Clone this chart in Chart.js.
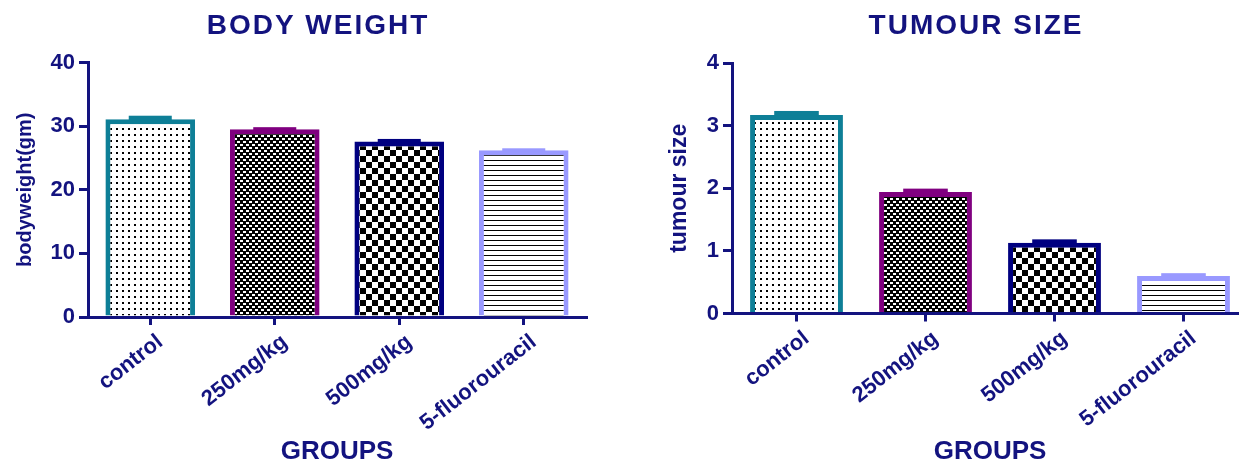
<!DOCTYPE html>
<html>
<head>
<meta charset="utf-8">
<script src="https://cdn.jsdelivr.net/npm/chart.js@4.4.0/dist/chart.umd.min.js"></script>
<style>
  html, body { margin: 0; padding: 0; background: #fff; overflow: hidden; width: 1239px; height: 463px; }
  .box { position: absolute; top: 0; height: 470px; }
  #left { left: 0; width: 620px; }
  #right { left: 620px; width: 640px; }
</style>
</head>
<body>
<div class="box" id="left"><canvas id="weightChart"></canvas></div>
<div class="box" id="right"><canvas id="tumourChart"></canvas></div>
<script>
const groups = ["control", "250mg/kg", "500mg/kg", "5-fluorouracil"];
const weightMeans = [31.1, 29.5, 27.6, 26.2];
const weightErrors = [0.3, 0.1, 0.15, 0.08];
const tumourMeans = [3.17, 1.94, 1.13, 0.6];
const tumourErrors = [0.04, 0.03, 0.03, 0.02];
const weightTicks = { max: 40, step: 10 };
const tumourTicks = { max: 4, step: 1 };

const navy = "#13137f";
const font = "'Liberation Sans', Arial, sans-serif";
const borderColors = ["#0e7f97", "#800080", "#000080", "#9999ff"];

// small tile patterns like the GraphPad fills
function tile(w, h, bg, fg, paint) {
  const c = document.createElement("canvas");
  c.width = w;
  c.height = h;
  const g = c.getContext("2d");
  g.fillStyle = bg;
  g.fillRect(0, 0, w, h);
  g.fillStyle = fg;
  paint(g);
  return g.createPattern(c, "repeat");
}

const fills = [
  tile(6, 6, "#fff", "#000", (g) => g.fillRect(2, 2, 2, 2)),
  tile(6, 6, "#000", "#fff", (g) => { g.fillRect(0, 0, 3, 2); g.fillRect(3, 3, 3, 2); }),
  tile(12, 12, "#fff", "#000", (g) => { g.fillRect(0, 0, 6, 6); g.fillRect(6, 6, 6, 6); }),
  tile(6, 5, "#fff", "#000", (g) => g.fillRect(0, 0, 6, 1)),
];

const errorCaps = {
  id: "errorCaps",
  afterDatasetsDraw(chart) {
    const { ctx } = chart;
    const y = chart.scales.y;
    const errs = chart.options.plugins.errorCaps.errors;
    chart.getDatasetMeta(0).data.forEach((bar, i) => {
      const mean = chart.data.datasets[0].data[i];
      const top = y.getPixelForValue(mean + errs[i]) - 1.5;
      const base = y.getPixelForValue(mean) + 1;
      const half = bar.width * 0.24;
      ctx.save();
      ctx.fillStyle = borderColors[i];
      ctx.fillRect(bar.x - half, top, half * 2, base - top);
      ctx.restore();
    });
  },
};

const chartTitle = {
  id: "chartTitle",
  afterDraw(chart) {
    const o = chart.options.plugins.chartTitle;
    const { ctx } = chart;
    ctx.save();
    ctx.font = "bold 28px " + font;
    if ("letterSpacing" in ctx) ctx.letterSpacing = "2px";
    ctx.fillStyle = navy;
    ctx.textAlign = "center";
    ctx.textBaseline = "middle";
    ctx.fillText(o.text, o.x, 26);
    ctx.restore();
  },
};

function makeChart(id, cfg) {
  return new Chart(document.getElementById(id), {
    type: "bar",
    data: {
      labels: groups,
      datasets: [
        {
          data: cfg.values,
          backgroundColor: fills,
          borderColor: borderColors,
          borderWidth: 5,
          borderSkipped: "bottom",
          barPercentage: 0.72,
          categoryPercentage: 1,
        },
      ],
    },
    plugins: [errorCaps, chartTitle],
    options: {
      responsive: true,
      maintainAspectRatio: false,
      animation: false,
      layout: { padding: { top: cfg.top, right: cfg.right, bottom: 0, left: 0 } },
      plugins: {
        legend: { display: false },
        tooltip: { enabled: false },
        errorCaps: { errors: cfg.errors },
        chartTitle: { text: cfg.title, x: cfg.titleX },
      },
      scales: {
        x: {
          grid: { display: true, offset: false, drawOnChartArea: false, tickLength: 8, color: navy, lineWidth: 3 },
          border: { color: navy, width: 3 },
          ticks: {
            color: navy,
            font: { family: font, size: 22, weight: "bold" },
            minRotation: 38,
            maxRotation: 38,
            padding: 4,
            labelOffset: 10,
          },
          title: {
            display: true,
            text: "GROUPS",
            color: navy,
            font: { family: font, size: 26, weight: "bold" },
            padding: { top: 0, bottom: 3 },
          },
          afterFit: (s) => { s.height = 470 - cfg.bottom; },
        },
        y: {
          min: 0,
          max: cfg.ticks.max,
          grid: { drawOnChartArea: false, tickLength: 9, color: navy, lineWidth: 3 },
          border: { color: navy, width: 3 },
          ticks: {
            stepSize: cfg.ticks.step,
            color: navy,
            font: { family: font, size: 22, weight: "bold" },
            padding: 4,
          },
          title: {
            display: true,
            text: cfg.yTitle,
            color: navy,
            font: { family: font, size: cfg.yTitleSize, weight: "bold" },
            padding: { top: cfg.yTitlePad, bottom: 0 },
          },
          afterFit: (s) => { s.width = cfg.axisX; },
        },
      },
    },
  });
}

makeChart("weightChart", {
  title: "BODY WEIGHT",
  titleX: 318,
  yTitle: "bodyweight(gm)",
  yTitleSize: 20,
  yTitlePad: 13,
  values: weightMeans,
  errors: weightErrors,
  ticks: weightTicks,
  axisX: 88,
  right: 34,
  top: 62.5,
  bottom: 317,
});

makeChart("tumourChart", {
  title: "TUMOUR SIZE",
  titleX: 356,
  yTitle: "tumour size",
  yTitleSize: 23,
  yTitlePad: 46,
  values: tumourMeans,
  errors: tumourErrors,
  ticks: tumourTicks,
  axisX: 112,
  right: 12,
  top: 63,
  bottom: 313.5,
});
</script>
</body>
</html>
